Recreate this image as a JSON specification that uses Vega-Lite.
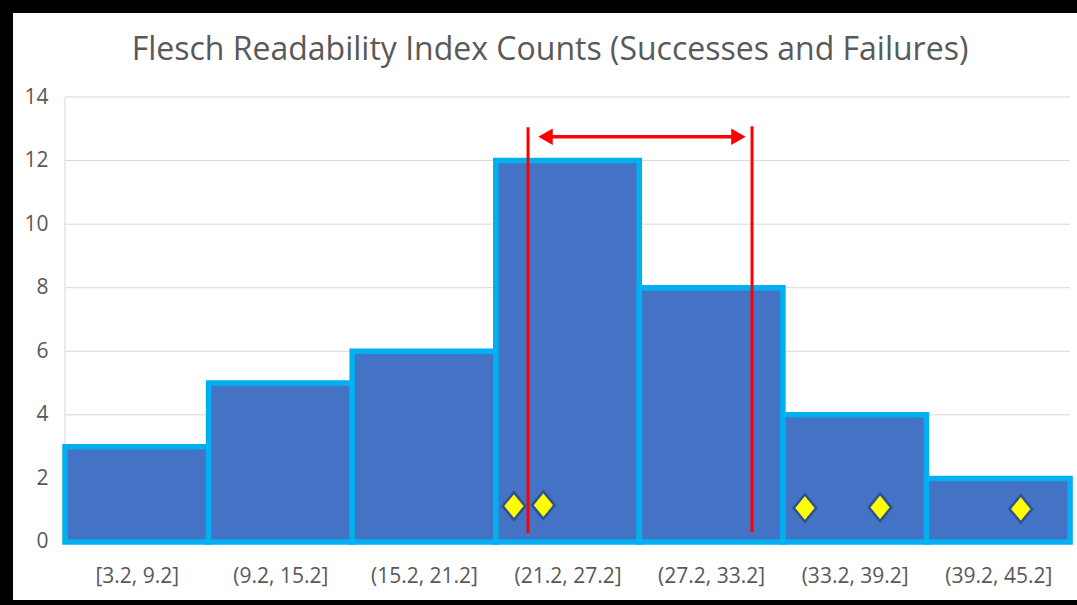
{
  "$schema": "https://vega.github.io/schema/vega-lite/v6.json",
  "width": 1064,
  "height": 587,
  "autosize": {"type": "none"},
  "padding": {"left": 13, "top": 13, "right": 0, "bottom": 5},
  "background": "#000000",
  "config": {
    "view": {"fill": "#FFFFFF", "stroke": null},
    "font": "Open Sans"
  },
  "title": {
    "text": "Flesch Readability Index Counts (Successes and Failures)",
    "font": "Open Sans",
    "fontSize": 32,
    "fontWeight": "normal",
    "color": "#595959",
    "anchor": "middle",
    "baseline": "alphabetic",
    "offset": -79,
    "dx": 5
  },
  "datasets": {
    "bins": [
      {"bin_start": 3.2, "bin_end": 9.2, "count": 3},
      {"bin_start": 9.2, "bin_end": 15.2, "count": 5},
      {"bin_start": 15.2, "bin_end": 21.2, "count": 6},
      {"bin_start": 21.2, "bin_end": 27.2, "count": 12},
      {"bin_start": 27.2, "bin_end": 33.2, "count": 8},
      {"bin_start": 33.2, "bin_end": 39.2, "count": 4},
      {"bin_start": 39.2, "bin_end": 45.2, "count": 2}
    ],
    "grid": [
      {"v": 0}, {"v": 2}, {"v": 4}, {"v": 6}, {"v": 8}, {"v": 10}, {"v": 12}, {"v": 14}
    ],
    "limits": [
      {"x": 22.55, "y_low": 0.28, "y_high": 13.05},
      {"x": 31.91, "y_low": 0.31, "y_high": 13.08}
    ],
    "arrow": [
      {"from": 23.28, "to": 31.34, "y": 12.75}
    ],
    "heads": [
      {"x": 23.28, "y": 12.75, "dir": "left"},
      {"x": 31.34, "y": 12.75, "dir": "right"}
    ],
    "points": [
      {"x": 21.96, "y": 1.13},
      {"x": 23.19, "y": 1.16},
      {"x": 34.12, "y": 1.07},
      {"x": 37.26, "y": 1.09},
      {"x": 43.14, "y": 1.04}
    ]
  },
  "layer": [
    {
      "data": {"name": "grid"},
      "mark": {"type": "rule", "stroke": "#D9D9D9", "strokeWidth": 1},
      "encoding": {
        "x": {
          "datum": 3.2,
          "type": "quantitative",
          "title": null,
          "scale": {"domain": [1.027, 45.49], "nice": false, "zero": false},
          "axis": {
            "orient": "bottom",
            "offset": -58,
            "values": [6.2, 12.2, 18.2, 24.2, 30.2, 36.2, 42.2],
            "labelExpr": "datum.value < 7 ? '[3.2, 9.2]' : datum.value < 13 ? '(9.2, 15.2]' : datum.value < 19 ? '(15.2, 21.2]' : datum.value < 25 ? '(21.2, 27.2]' : datum.value < 31 ? '(27.2, 33.2]' : datum.value < 37 ? '(33.2, 39.2]' : '(39.2, 45.2]'",
            "grid": false,
            "domain": false,
            "ticks": false,
            "labelPadding": 23,
            "labelFont": "Open Sans",
            "labelFontSize": 21,
            "labelColor": "#595959",
            "labelOverlap": false,
            "labelFlush": false,
            "title": null
          }
        },
        "x2": {"datum": 45.2},
        "y": {
          "field": "v",
          "type": "quantitative",
          "title": null,
          "scale": {"domain": [-1.825, 16.643], "nice": false, "zero": false},
          "axis": {
            "orient": "left",
            "offset": -52,
            "values": [0, 2, 4, 6, 8, 10, 12, 14],
            "grid": false,
            "domain": false,
            "ticks": false,
            "labelPadding": 17,
            "labelFont": "Open Sans",
            "labelFontSize": 21,
            "labelColor": "#595959",
            "title": null
          }
        }
      }
    },
    {
      "data": {"values": [{}]},
      "mark": {"type": "rule", "stroke": "#D9D9D9", "strokeWidth": 1},
      "encoding": {
        "x": {"datum": 3.2, "type": "quantitative", "title": null},
        "y": {"datum": 0, "type": "quantitative", "title": null},
        "y2": {"datum": 14}
      }
    },
    {
      "data": {"name": "bins"},
      "mark": {"type": "rect", "fill": "#4472C4", "stroke": "#00B0F0", "strokeWidth": 5.5},
      "encoding": {
        "x": {"field": "bin_start", "type": "quantitative", "title": null},
        "x2": {"field": "bin_end"},
        "y": {"field": "count", "type": "quantitative", "title": null},
        "y2": {"datum": 0}
      }
    },
    {
      "data": {"name": "limits"},
      "mark": {"type": "rule", "stroke": "#FF0000", "strokeWidth": 3},
      "encoding": {
        "x": {"field": "x", "type": "quantitative", "title": null},
        "y": {"field": "y_low", "type": "quantitative", "title": null},
        "y2": {"field": "y_high"}
      }
    },
    {
      "data": {"name": "arrow"},
      "mark": {"type": "rule", "stroke": "#FF0000", "strokeWidth": 3.5},
      "encoding": {
        "x": {"field": "from", "type": "quantitative", "title": null},
        "x2": {"field": "to"},
        "y": {"field": "y", "type": "quantitative", "title": null}
      }
    },
    {
      "data": {"name": "heads"},
      "mark": {"type": "point", "filled": true, "fill": "#FF0000", "stroke": null, "opacity": 1, "size": 279},
      "encoding": {
        "x": {"field": "x", "type": "quantitative", "title": null},
        "y": {"field": "y", "type": "quantitative", "title": null},
        "shape": {
          "field": "dir",
          "type": "nominal",
          "scale": {"domain": ["left", "right"], "range": ["triangle-left", "triangle-right"]},
          "legend": null
        }
      }
    },
    {
      "data": {"name": "points"},
      "mark": {
        "type": "point",
        "shape": "M0,-1.22L1,0L0,1.22L-1,0Z",
        "filled": true,
        "fill": "#FFFF00",
        "stroke": "#2F528F",
        "strokeWidth": 2.5,
        "opacity": 1,
        "size": 506
      },
      "encoding": {
        "x": {"field": "x", "type": "quantitative", "title": null},
        "y": {"field": "y", "type": "quantitative", "title": null}
      }
    }
  ]
}
